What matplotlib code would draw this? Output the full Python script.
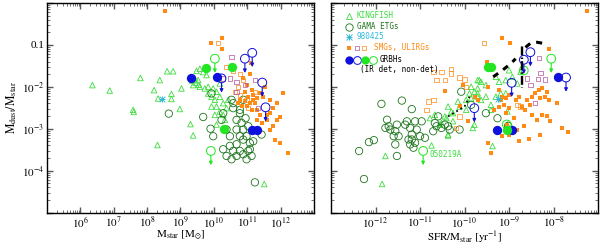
import numpy as np
import matplotlib
matplotlib.use("Agg")
import matplotlib.pyplot as plt
from matplotlib.ticker import LogLocator, NullFormatter, FixedLocator, FixedFormatter

plt.rcParams.update({
    "font.family": "serif",
    "font.serif": ["Liberation Serif", "DejaVu Serif"],
    "mathtext.fontset": "stix",
    "font.size": 8,
})

# ---- colours ----
C_KF = "#3ddc3d"
C_GAMA = "#1c741c"
C_CYAN = "#2fb8d8"
C_ORG = "#ff8a14"
C_PURP = "#b0529c"
C_BLUE = "#1010dd"
C_GRN = "#22e622"

# ================= left panel: log M_star vs log Mdust/Mstar =================
kf_m = [6.36, 6.88, 7.58, 7.60, 7.80, 8.21, 8.38, 8.33, 8.60, 8.78, 8.73, 8.73, 9.03, 8.98,
        9.30, 9.38, 8.31, 11.51, 9.48, 9.58, 9.43, 9.53, 9.38, 9.58, 9.73, 9.83, 9.98, 10.08,
        9.93, 10.03, 9.93, 10.08, 10.18, 10.03, 10.28, 10.33, 9.83, 10.18, 10.28, 10.43, 10.38,
        10.08, 9.78, 9.68, 10.18, 9.35, 9.45, 9.55]
kf_d = [-1.96, -2.09, -2.55, -2.60, -1.79, -2.08, -1.84, -2.28, -1.63, -1.63, -2.17, -2.29, -2.04, -2.53,
        -2.89, -3.16, -3.39, -4.32, -1.62, -1.57, -1.80, -1.84, -1.96, -2.00, -2.04, -2.00, -2.04, -2.12,
        -2.24, -2.31, -2.47, -2.47, -2.59, -2.67, -2.67, -2.79, -2.16, -2.24, -2.39, -2.31, -2.51,
        -2.90, -1.72, -1.65, -1.92, -1.85, -1.90, -1.95]

gama_m = [8.65, 9.68, 9.93, 9.98, 10.23, 10.28, 10.38, 10.48, 10.53, 10.58, 10.68, 10.78, 10.83,
          10.68, 10.88, 10.78, 10.88, 10.98, 11.08, 10.68, 10.48, 10.58, 10.78, 10.88, 11.03, 11.13,
          11.08, 10.98, 11.18, 10.53, 10.68, 10.28, 10.38, 9.90, 11.23, 10.78, 10.88, 10.58, 11.03,
          11.43, 10.95]
gama_d = [-2.64, -2.72, -2.16, -3.18, -2.79, -2.63, -3.02, -3.18, -2.31, -2.51, -2.79, -2.63, -2.86,
          -3.02, -3.02, -3.18, -3.26, -3.18, -3.34, -3.37, -3.41, -3.53, -3.53, -3.61, -3.53, -3.65,
          -3.49, -3.73, -3.30, -3.73, -3.65, -3.49, -3.65, -3.00, -4.28, -2.55, -2.31, -2.39, -2.94,
          -3.14, -2.75]

smg_m = [8.55, 9.90, 10.25, 10.23, 11.10, 11.08, 10.88, 10.98, 11.13, 10.93, 11.03, 11.18, 11.28,
         11.23, 11.08, 10.93, 10.78, 10.83, 10.73, 11.28, 11.38, 11.58, 11.68, 11.78, 11.88, 12.08,
         11.68, 11.48, 11.38, 11.53, 11.88, 11.98, 11.78, 11.68, 11.98, 11.83, 12.23, 11.58, 11.43,
         11.28, 11.13, 10.98, 11.18]
smg_d = [-0.19, -0.96, -0.84, -1.10, -1.43, -1.69, -1.80, -1.96, -2.08, -2.12, -2.24, -2.20, -2.27,
         -2.39, -2.39, -2.35, -2.31, -2.47, -2.39, -2.55, -2.67, -2.67, -2.63, -2.51, -2.39, -2.16,
         -2.31, -2.24, -2.16, -2.00, -2.79, -2.71, -2.94, -3.02, -3.34, -3.26, -3.57, -2.79, -2.86,
         -2.79, -2.55, -2.47, -2.31]

ulirg_m = [10.13, 10.38, 10.58, 10.78, 10.88, 10.73, 10.63, 10.78, 10.98, 11.03, 11.23]
ulirg_d = [-0.96, -1.53, -1.61, -1.69, -1.84, -2.00, -2.12, -2.20, -2.31, -2.51, -2.12]

purp_m = [10.53, 10.48, 10.28, 10.68, 10.93, 10.68, 11.23, 11.33]
purp_d = [-1.29, -1.80, -1.80, -1.88, -1.96, -2.12, -1.84, -2.51]

sn_m = [8.45]
sn_d = [-2.29]

grb_bdet_m = [9.33, 10.08, 11.13, 11.28]
grb_bdet_d = [-1.78, -1.76, -3.02, -3.02]
grb_blim_m = [10.23, 10.93, 11.15, 11.45, 11.55]
grb_blim_d = [-1.80, -1.33, -1.19, -1.90, -2.49]
grb_gdet_m = [9.76, 10.55, 10.31]
grb_gdet_d = [-1.55, -1.53, -3.00]
grb_glim_m = [10.03, 9.91]
grb_glim_d = [-1.33, -3.53]

# ================= right panel: log sSFR vs log Mdust/Mstar =================
kf_s = [-11.778, -11.852, -10.741, -10.370, -10.370, -10.148, -10.259, -10.519, -10.444, -10.778,
        -10.667, -9.963, -9.778, -9.704, -9.704, -9.852, -9.815, -9.370, -9.037, -9.000, -9.074,
        -9.222, -9.296, -9.519, -9.630, -9.704, -9.852, -9.778, -9.704, -9.630, -9.519, -9.407,
        -9.296, -9.185, -9.074, -9.037, -9.407, -8.926, -8.815, -8.741, -9.667, -9.889, -9.963,
        -10.111, -10.296, -10.407, -10.556, -10.26, -10.37]
kf_d2 = [-3.650, -4.318, -3.398, -3.163, -2.471, -2.353, -2.628, -2.864, -2.706, -2.746,
         -2.667, -2.549, -2.903, -1.842, -2.156, -2.274, -2.981, -3.413, -2.903, -1.605, -1.841,
         -1.881, -1.763, -1.959, -1.881, -2.038, -1.998, -2.116, -2.234, -2.313, -2.234, -2.431,
         -2.234, -2.156, -2.156, -2.588, -2.549, -1.763, -1.920, -1.645, -1.841, -2.156, -2.313,
         -2.470, -2.588, -2.745, -2.903, -2.82, -3.14]

gama_s = [-11.867, -11.408, -11.185, -11.741, -11.704, -11.667, -11.778, -11.519, -11.556, -11.593,
          -11.481, -11.296, -11.333, -11.222, -11.111, -10.963, -11.074, -11.000, -11.185, -11.185,
          -11.222, -11.111, -11.148, -11.259, -11.556, -11.519, -12.148, -12.037, -12.370, -10.889,
          -10.667, -10.593, -10.630, -10.444, -10.370, -10.333, -10.519, -10.704, -10.111, -10.074,
          -9.852, -12.259, -9.52, -9.26, -9.02]
gama_d2 = [-2.408, -2.329, -2.533, -2.785, -2.942, -3.021, -2.982, -2.903, -3.060, -3.178,
           -3.178, -2.824, -2.903, -2.982, -2.824, -2.824, -3.021, -3.178, -3.139, -3.257,
           -3.375, -3.335, -3.453, -3.257, -3.375, -3.650, -3.320, -3.273, -3.532, -3.217,
           -2.864, -2.706, -2.942, -2.903, -2.942, -3.021, -2.982, -3.060, -3.021, -2.117,
           -2.431, -4.200, -2.63, -2.75, -2.93]

smg_s = [-9.148, -8.985, -8.111, -7.237, -9.481, -9.222, -9.148, -9.074, -9.000, -9.185, -9.111,
         -9.222, -9.333, -9.074, -9.000, -8.852, -8.778, -8.704, -8.630, -8.593, -8.519, -8.481,
         -8.407, -8.333, -8.259, -8.296, -8.185, -8.111, -8.148, -8.481, -8.259, -8.148, -8.074,
         -8.370, -7.926, -7.815, -7.681, -8.296, -8.556, -8.778, -8.815, -9.000, -9.148, -9.481,
         -9.407, -8.667, -8.889, -9.037, -9.756, -9.704, -9.496, -10.44, -10.037, -9.926, -10.11]
smg_d2 = [-0.843, -0.961, -1.103, -0.191, -1.999, -2.078, -2.235, -2.274, -2.196, -2.314, -2.431,
          -2.471, -2.549, -2.628, -2.510, -2.314, -2.235, -2.471, -2.549, -2.314, -2.431, -2.235,
          -2.156, -2.078, -2.038, -2.274, -2.235, -2.314, -2.117, -2.667, -2.667, -2.707, -2.825,
          -2.785, -2.392, -2.982, -3.076, -3.139, -3.257, -3.296, -3.021, -3.139, -3.178, -3.351,
          -3.587, -2.943, -2.746, -2.903, -2.235, -2.314, -1.41, -2.10, -1.960, -2.824, -2.47]

ulirg_s = [-9.556, -10.52, -10.30, -10.30, -10.11, -10.00, -10.44, -9.96, -10.63, -10.70, -10.81,
           -10.85, -10.70, -10.11, -10.19, -8.74, -8.81]
ulirg_d2 = [-0.961, -1.65, -1.57, -1.68, -1.78, -1.83, -1.84, -2.00, -1.84, -1.64, -2.35,
            -2.55, -2.31, -2.71, -2.98, -2.47, -2.43]

purp_s = [-8.296, -8.333, -8.348, -8.185, -8.59, -8.52, -8.41]
purp_d2 = [-1.669, -1.307, -1.818, -1.826, -1.80, -1.96, -2.39]

sn_s = [-9.245]
sn_d2 = [-2.29]

grb_bdet_s = [-9.259, -8.941, -7.904]
grb_bdet_d2 = [-3.021, -3.021, -1.763]
grb_blim_s = [-9.78, -8.941, -8.52, -8.667, -7.719]
grb_blim_d2 = [-2.51, -1.905, -1.175, -1.355, -1.779]
grb_gdet_s = [-9.48, -9.41, -9.052]
grb_gdet_d2 = [-1.53, -1.53, -3.021]
grb_glim_s = [-8.052, -10.93]
grb_glim_d2 = [-1.33, -3.53]
grb_gopen_s = [-8.67, -9.05]
grb_gopen_d2 = [-1.61, -2.90]

# model tracks (right panel)
track1_s = [-9.356, -9.148, -8.963, -8.852]
track1_d = [-1.763, -1.606, -1.449, -1.331]
track2_s = [-8.63, -8.519, -8.370, -8.245]
track2_d = [-1.06, -0.961, -0.938, -0.961]
vline_s = [-8.741, -8.741]
vline_d = [-1.016, -2.015]
track3_s = [-10.370, -10.185, -10.0, -9.926, -9.889]
track3_d = [-2.706, -2.589, -2.471, -2.313, -2.235]


def p(v):
    return 10 ** np.asarray(v)


def ulim(ax, x, y, color):
    for xi, yi in zip(p(x), p(y)):
        ax.annotate("", xy=(xi, yi / 10 ** 0.34), xytext=(xi, yi),
                    arrowprops=dict(arrowstyle="-|>", color=color, lw=0.8,
                                    shrinkA=3.2, shrinkB=0, mutation_scale=5))


def draw_panel(ax, x, kf, gama, smg, ulirg, purp, sn, bdet, blim, gdet, glim):
    ax.scatter(p(x[0]), p(kf), marker="^", s=16, facecolors="none", edgecolors=C_KF, linewidths=0.6)
    ax.scatter(p(x[1]), p(gama), marker="o", s=28, facecolors="none", edgecolors=C_GAMA, linewidths=0.6)
    ax.scatter(p(x[2]), p(smg), marker="s", s=7, color=C_ORG, linewidths=0)
    ax.scatter(p(x[3]), p(ulirg), marker="s", s=10, facecolors="none", edgecolors=C_ORG, linewidths=0.5)
    ax.scatter(p(x[4]), p(purp), marker="s", s=10, facecolors="none", edgecolors=C_PURP, linewidths=0.5)
    ax.scatter(p(x[5]), p(sn), marker="x", s=16, color=C_CYAN, linewidths=0.7)
    ax.scatter(p(x[5]), p(sn), marker="+", s=16, color=C_CYAN, linewidths=0.7)
    ax.scatter(p(x[6]), p(bdet), marker="o", s=45, color=C_BLUE, linewidths=0)
    ax.scatter(p(x[7]), p(blim), marker="o", s=40, facecolors="none", edgecolors=C_BLUE, linewidths=0.7)
    ulim(ax, x[7], blim, C_BLUE)
    ax.scatter(p(x[8]), p(gdet), marker="o", s=45, color=C_GRN, linewidths=0)
    ax.scatter(p(x[9]), p(glim), marker="o", s=40, facecolors="none", edgecolors=C_GRN, linewidths=0.7)
    ulim(ax, x[9], glim, C_GRN)


def style(ax, xlim, xmaj, xlab):
    ax.set_xscale("log")
    ax.set_yscale("log")
    ax.set_xlim(*xlim)
    ax.set_ylim(1e-5, 1)
    ax.xaxis.set_major_locator(FixedLocator(xmaj))
    ax.xaxis.set_major_formatter(FixedFormatter(xlab))
    ax.xaxis.set_minor_locator(LogLocator(base=10, subs=np.arange(2, 10), numticks=30))
    ax.yaxis.set_minor_locator(LogLocator(base=10, subs=np.arange(2, 10), numticks=30))
    ax.xaxis.set_minor_formatter(NullFormatter())
    ax.yaxis.set_minor_formatter(NullFormatter())
    ax.tick_params(which="both", direction="in", top=True, right=True, color="0.35")
    ax.tick_params(which="major", length=4.5, width=1.0, labelsize=8, pad=2)
    ax.tick_params(which="minor", length=2.2, width=0.6)
    for s in ax.spines.values():
        s.set_linewidth(1.0)


fig = plt.figure(figsize=(6.0, 2.46), dpi=100)
axL = fig.add_axes([0.0783, 0.136, 0.445, 0.852])
axR = fig.add_axes([0.5517, 0.136, 0.445, 0.852])

draw_panel(axL, [kf_m, gama_m, smg_m, ulirg_m, purp_m, sn_m, grb_bdet_m, grb_blim_m, grb_gdet_m, grb_glim_m],
           kf_d, gama_d, smg_d, ulirg_d, purp_d, sn_d, grb_bdet_d, grb_blim_d, grb_gdet_d, grb_glim_d)
draw_panel(axR, [kf_s, gama_s, smg_s, ulirg_s, purp_s, sn_s, grb_bdet_s, grb_blim_s, grb_gdet_s, grb_glim_s],
           kf_d2, gama_d2, smg_d2, ulirg_d2, purp_d2, sn_d2, grb_bdet_d2, grb_blim_d2, grb_gdet_d2, grb_glim_d2)
axR.scatter(p(grb_gopen_s), p(grb_gopen_d2), marker="o", s=40, facecolors="none", edgecolors=C_GRN, linewidths=0.7)

# model tracks
axR.plot(p(track1_s), p(track1_d), color="k", lw=2.2, ls=(0, (2, 2)))
axR.plot(p(track2_s), p(track2_d), color="k", lw=2.2, ls=(0, (2, 2)))
axR.plot(p(vline_s), p(vline_d), color="k", lw=1.0, ls="-.")
axR.plot(p(np.array(vline_s) + 0.04), p(vline_d), color="k", lw=1.0, ls="-.")
axR.plot(p(track3_s), p(track3_d), color="k", lw=1.3, ls=":")

axR.text(p(-10.78), p(-3.62), "050219A", color=C_KF, fontsize=5.5, family="DejaVu Sans Mono",
         va="center", ha="left")

style(axL, (1e5, 1e13), [1e6, 1e7, 1e8, 1e9, 1e10, 1e11, 1e12],
      [r"$10^{%d}$" % k for k in range(6, 13)])
axL.yaxis.set_major_locator(FixedLocator([1e-5, 1e-4, 1e-3, 1e-2, 0.1, 1]))
axL.yaxis.set_major_formatter(FixedFormatter(["", r"$10^{-4}$", r"$10^{-3}$", r"$10^{-2}$", "0.1", ""]))
axL.set_xlabel(r"$\mathrm{M_{star}\ [M_{\odot}]}$", fontsize=8, labelpad=-1.0)
axL.set_ylabel(r"$\mathrm{M_{dust}/M_{star}}$", fontsize=8.5, labelpad=2)

style(axR, (1e-13, 1e-7), [1e-12, 1e-11, 1e-10, 1e-9, 1e-8],
      [r"$10^{%d}$" % k for k in range(-12, -7)])
axR.yaxis.set_major_locator(FixedLocator([1e-5, 1e-4, 1e-3, 1e-2, 0.1, 1]))
axR.yaxis.set_major_formatter(NullFormatter())
axR.set_xlabel(r"$\mathrm{SFR/M_{star}\ [yr^{-1}]}$", fontsize=8, labelpad=-1.0)

# hand-made legend (axes coordinates)
tr = axR.transAxes
lf = dict(fontsize=5.5, family="DejaVu Sans Mono", va="center", ha="left", transform=tr)
axR.plot(0.067, 0.938, "^", ms=3.8, mfc="none", mec=C_KF, mew=0.6, transform=tr)
axR.text(0.097, 0.938, "KINGFISH", color=C_KF, **lf)
axR.plot(0.067, 0.886, "o", ms=5.3, mfc="none", mec=C_GAMA, mew=0.6, transform=tr)
axR.text(0.097, 0.886, "GAMA ETGs", color=C_GAMA, **lf)
axR.plot(0.067, 0.838, "x", ms=3.8, color=C_CYAN, mew=0.7, transform=tr)
axR.plot(0.067, 0.838, "+", ms=3.8, color=C_CYAN, mew=0.7, transform=tr)
axR.text(0.097, 0.838, "980425", color=C_CYAN, **lf)
axR.plot(0.067, 0.786, "s", ms=2.6, color=C_ORG, mew=0, transform=tr)
axR.plot(0.097, 0.786, "s", ms=3.0, mfc="none", mec=C_PURP, mew=0.5, transform=tr)
axR.plot(0.124, 0.786, "s", ms=3.0, mfc="none", mec=C_ORG, mew=0.5, transform=tr)
axR.text(0.161, 0.786, "SMGs, ULIRGs", color=C_ORG, **lf)
axR.plot(0.067, 0.729, "o", ms=6, color=C_BLUE, mew=0, transform=tr)
axR.plot(0.097, 0.729, "o", ms=5.6, mfc="none", mec=C_BLUE, mew=0.7, transform=tr)
axR.plot(0.127, 0.729, "o", ms=6, color=C_GRN, mew=0, transform=tr)
axR.plot(0.157, 0.729, "o", ms=5.6, mfc="none", mec=C_GRN, mew=0.7, transform=tr)
axR.text(0.182, 0.729, "GRBHs", color="k", **lf)
axR.text(0.109, 0.681, "(IR det, non-det)", color="k", **lf)

fig.savefig("out.png", dpi=100)
